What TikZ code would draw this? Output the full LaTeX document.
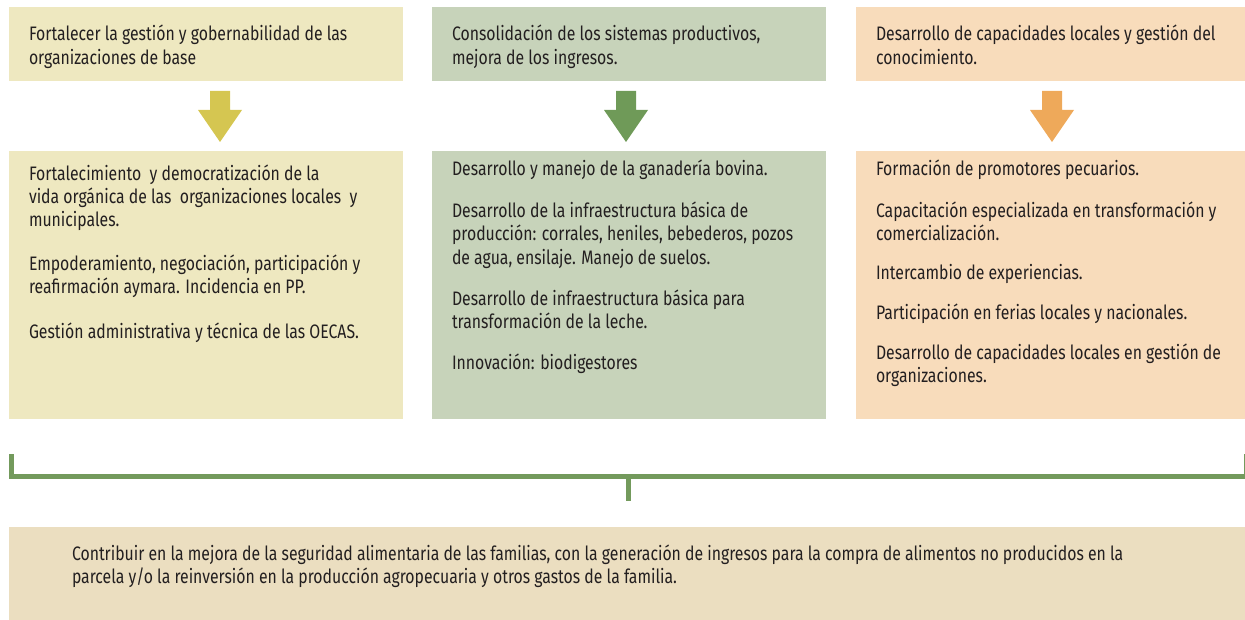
\documentclass[tikz,border=0pt]{standalone}
\usepackage{fontspec}
\setmainfont{Fira Sans}[FakeStretch=0.81]
\definecolor{boxA}{HTML}{EEE8C0}
\definecolor{arrA}{HTML}{D5C651}
\definecolor{boxB}{HTML}{C7D3BA}
\definecolor{arrB}{HTML}{6F9A58}
\definecolor{boxC}{HTML}{F8DCBB}
\definecolor{arrC}{HTML}{EEA95A}
\definecolor{boxD}{HTML}{EBDEC0}
\definecolor{brk}{HTML}{739A5C}
\definecolor{ink}{HTML}{231F20}
\newcommand{\firstln}{\rule{0pt}{18pt}}
\begin{document}
\begin{tikzpicture}[x=1pt,y=-1pt,
  panel/.style={rectangle,draw=none,inner sep=0pt,outer sep=0pt,anchor=north west,minimum width=394pt},
  toppanel/.style={panel,minimum height=74pt},
  lowpanel/.style={panel,minimum height=267.5pt},
  txt/.style={anchor=north west,inner sep=0pt,outer sep=0pt,align=left,text=ink,
    font=\fontsize{19.5}{23.5}\selectfont},
  bracket/.style={draw=brk,line width=5pt,line join=miter,line cap=butt}]
\useasboundingbox (0,0) rectangle (1245,620);
\clip (0,0) rectangle (1245,620);
% panels
\node[toppanel,fill=boxA] (t1) at (9,7) {};
\node[toppanel,fill=boxB] (t2) at (432,7) {};
\node[toppanel,fill=boxC] (t3) at (856,7) {};
\node[lowpanel,fill=boxA] (l1) at (9,151) {};
\node[lowpanel,fill=boxB] (l2) at (432,151) {};
\node[lowpanel,fill=boxC] (l3) at (856,151) {};
\node[panel,fill=boxD,minimum width=1245pt,minimum height=100pt] (goal) at (9,527) {};
% top texts
\node[txt] (tt1) at (29,23) {\firstln Fortalecer la gestión y gobernabilidad de las\\organizaciones de base};
\node[txt] (tt2) at (452,23) {\firstln Consolidación de los sistemas productivos,\\mejora de los ingresos.};
\node[txt] (tt3) at (876,23) {\firstln Desarrollo de capacidades locales y gestión del\\conocimiento.};
% lower texts
\node[txt] (lt1) at (29,162) {\firstln Fortalecimiento\ \ y democratización de la\\vida orgánica de las\ \ organizaciones locales\ \ y\\municipales.\\[19.5pt]Empoderamiento, negociación, participación y\\reafirmación aymara. Incidencia en PP.\\[21pt]Gestión administrativa y técnica de las OECAS.};
\node[txt] (lt2) at (452,157) {\firstln Desarrollo y manejo de la ganadería bovina.\\[18.5pt]Desarrollo de la infraestructura básica de\\producción: corrales, heniles, bebederos, pozos\\de agua, ensilaje. Manejo de suelos.\\[17.5pt]Desarrollo de infraestructura básica para\\transformación de la leche.\\[17pt]Innovación: biodigestores};
\node[txt] (lt3) at (876,157) {\firstln Formación de promotores pecuarios.\\[18.5pt]Capacitación especializada en transformación y\\comercialización.\\[15pt]Intercambio de experiencias.\\[16.5pt]Participación en ferias locales y nacionales.\\[16.5pt]Desarrollo de capacidades locales en gestión de\\organizaciones.};
% goal text
\node[txt] (gt) at (72,542) {\firstln Contribuir en la mejora de la seguridad alimentaria de las familias, con la generación de ingresos para la compra de alimentos no producidos en la\\parcela y/o la reinversión en la producción agropecuaria y otros gastos de la familia.};
% block arrows
\coordinate (a1) at (220,91);
\coordinate (a2) at (626,91);
\coordinate (a3) at (1052,91);
\foreach \c/\col in {a1/arrA,a2/arrB,a3/arrC}{
  \fill[\col] (\c) ++(-10,0) -- ++(0,19) -- ++(-12,0) -- ++(22,32) -- ++(22,-32) -- ++(-12,0) -- ++(0,-19) -- cycle;
}
% bracket
\coordinate (bl) at (11.5,454);
\coordinate (br) at (1246.5,454);
\coordinate (bm) at (628.5,476.5);
\coordinate (bs) at (628.5,501);
\draw[bracket] (bl) -- (bl |- bm) -- (br |- bm) -- (br);
\draw[bracket] (bm) -- (bs);
\end{tikzpicture}
\end{document}
